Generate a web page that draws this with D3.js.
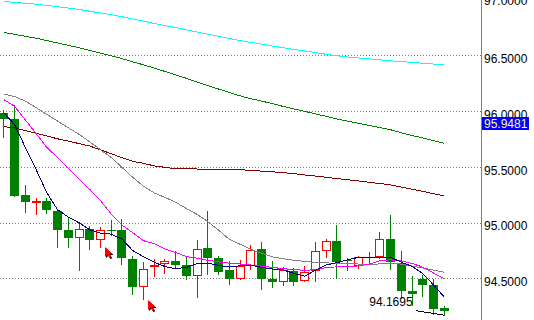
<html>
<head>
    <meta charset="utf-8">
    <title>Chart</title>
    <script src="https://d3js.org/d3.v7.min.js" charset="utf-8"></script>
    <style>
        body { margin: 0; background: #fff; }
        svg text { font-family: "Liberation Sans", Arial, sans-serif; font-size: 12px; }
    </style>
</head>
<body>
    <div id="chart"></div>
    <script>
        // bar data, oldest first
        const opens  = [95.981,95.929,95.243,95.175,95.189,95.106,94.935,94.857,94.942,94.843,94.935,94.935,94.672,94.419,94.597,94.630,94.657,94.621,94.525,94.774,94.684,94.576,94.495,94.606,94.765,94.495,94.466,94.567,94.477,94.561,94.749,94.830,94.663,94.612,94.687,94.687,94.854,94.636,94.388,94.491,94.442,94.237];
        const highs  = [96.013,96.057,95.339,95.220,95.220,95.108,95.049,94.995,94.965,94.956,95.025,95.031,94.696,94.642,94.672,94.672,94.741,94.702,94.846,95.106,94.696,94.657,94.666,94.798,94.828,94.657,94.600,94.591,94.612,94.828,94.852,94.980,94.681,94.702,94.732,94.917,95.070,94.741,94.522,94.527,94.493,94.253];
        const lows   = [95.766,95.238,95.091,95.076,95.085,94.785,94.785,94.576,94.765,94.785,94.884,94.627,94.356,94.313,94.522,94.552,94.600,94.495,94.328,94.543,94.538,94.453,94.493,94.585,94.406,94.426,94.444,94.444,94.473,94.477,94.690,94.507,94.576,94.591,94.627,94.685,94.583,94.325,94.262,94.337,94.180,94.1695];
        const closes = [95.929,95.240,95.180,95.193,95.109,94.935,94.857,94.942,94.839,94.929,94.926,94.678,94.419,94.585,94.618,94.657,94.621,94.525,94.762,94.684,94.558,94.495,94.606,94.756,94.495,94.471,94.576,94.471,94.558,94.744,94.830,94.642,94.654,94.687,94.678,94.852,94.642,94.383,94.358,94.437,94.226,94.204];

        // moving averages
        const maCyan = [96.982,96.974,96.966,96.958,96.947,96.935,96.923,96.911,96.895,96.879,96.864,96.846,96.825,96.806,96.785,96.766,96.748,96.728,96.708,96.689,96.670,96.651,96.632,96.615,96.600,96.583,96.567,96.552,96.539,96.524,96.509,96.495,96.485,96.476,96.468,96.459,96.450,96.443,96.436,96.429,96.421,96.413];
        const maGreen = [96.704,96.688,96.670,96.653,96.632,96.610,96.589,96.568,96.544,96.520,96.496,96.470,96.441,96.414,96.385,96.355,96.325,96.293,96.260,96.227,96.197,96.166,96.136,96.110,96.089,96.066,96.041,96.019,95.997,95.975,95.952,95.928,95.909,95.890,95.871,95.852,95.832,95.805,95.780,95.759,95.734,95.711];
        const maMaroon = [95.860,95.848,95.825,95.801,95.776,95.751,95.730,95.708,95.686,95.652,95.617,95.581,95.549,95.531,95.508,95.495,95.483,95.482,95.480,95.478,95.478,95.476,95.474,95.467,95.461,95.455,95.448,95.438,95.427,95.417,95.406,95.394,95.384,95.373,95.361,95.350,95.338,95.318,95.298,95.279,95.259,95.238];
        const maGray = [96.153,96.130,96.089,96.031,95.970,95.910,95.850,95.792,95.723,95.653,95.583,95.495,95.405,95.326,95.265,95.225,95.182,95.125,95.073,95.007,94.931,94.849,94.805,94.759,94.724,94.692,94.676,94.662,94.651,94.643,94.638,94.635,94.634,94.628,94.623,94.629,94.636,94.627,94.610,94.592,94.573,94.554];
        const maMagenta = [96.102,96.043,95.921,95.799,95.674,95.583,95.485,95.390,95.297,95.197,95.076,94.977,94.909,94.837,94.810,94.762,94.731,94.695,94.680,94.661,94.648,94.636,94.628,94.619,94.609,94.598,94.586,94.579,94.571,94.578,94.595,94.603,94.606,94.611,94.627,94.657,94.666,94.655,94.633,94.600,94.547,94.495];
        const maNavy = [95.983,95.880,95.674,95.477,95.268,95.115,95.050,94.998,94.935,94.905,94.896,94.851,94.749,94.693,94.644,94.605,94.586,94.598,94.632,94.637,94.615,94.601,94.612,94.618,94.598,94.583,94.575,94.544,94.520,94.571,94.619,94.640,94.665,94.688,94.690,94.690,94.688,94.644,94.607,94.543,94.440,94.331];

        const priceTicks = [97.0, 96.5, 96.0, 95.5, 95.0, 94.5];
        const currentPrice = 95.9481;
        const lowPrice = 94.1695;
        const lowLine = [[38.35, 94.21], [41, 94.1695]];
        const arrows = [[9.42, 94.785], [13.45, 94.307]];

        let width = 534,
            height = 320,
            axisX = 481;

        const x = d3.scaleLinear().domain([0, 41]).range([3.8, 444.3]);
        const y = d3.scaleLinear().domain([97, 94.5]).range([-0.5, 278.3]);

        const svg = d3.select("#chart").append("svg")
            .attr("width", width)
            .attr("height", height)
            .style("display", "block");

        // dotted grid
        svg.selectAll(".grid")
            .data(priceTicks.slice(1))
            .enter()
            .append("line")
            .attr("x1", 0)
            .attr("x2", axisX)
            .attr("y1", d => Math.round(y(d)) + 0.5)
            .attr("y2", d => Math.round(y(d)) + 0.5)
            .attr("stroke", "#808080")
            .attr("stroke-dasharray", "1,2")
            .attr("shape-rendering", "crispEdges");

        const bars = opens.map((o, i) => ({
            i: i, o: o, h: highs[i], l: lows[i], c: closes[i], up: closes[i] >= o
        }));

        const g = svg.selectAll(".bar")
            .data(bars)
            .enter()
            .append("g")
            .attr("shape-rendering", "crispEdges");

        g.each(function (d) {
            let el = d3.select(this),
                cx = Math.floor(x(d.i)),
                top = Math.round(y(Math.max(d.o, d.c))),
                bot = Math.round(y(Math.min(d.o, d.c))),
                col = d.up ? "#ff0000" : "#008000";
            if (bot - top < 1) bot = top + 1;
            el.append("line")
                .attr("x1", cx + 0.5).attr("x2", cx + 0.5)
                .attr("y1", Math.round(y(d.h))).attr("y2", Math.round(y(d.l)) + 1)
                .attr("stroke", col);
            if (d.up) {
                el.append("rect")
                    .attr("x", cx - 3.5).attr("y", top + 0.5)
                    .attr("width", 8).attr("height", Math.max(bot - top - 1, 1))
                    .attr("fill", "#fff").attr("stroke", col);
            } else {
                el.append("rect")
                    .attr("x", cx - 4).attr("y", top)
                    .attr("width", 9).attr("height", bot - top)
                    .attr("fill", col);
            }
        });

        // moving averages
        const line = d3.line().x((d, i) => x(i)).y(d => y(d));
        [[maCyan, "#00ffff"], [maGreen, "#008000"], [maMaroon, "#800000"],
         [maGray, "#808080"], [maMagenta, "#ff00ff"], [maNavy, "#000080"]].forEach(m => {
            svg.append("path")
                .attr("d", line(m[0]))
                .attr("fill", "none")
                .attr("stroke", m[1])
                .attr("stroke-width", 1)
                .attr("shape-rendering", "crispEdges");
        });

        // lowest low marker
        svg.append("line")
            .attr("x1", x(lowLine[0][0])).attr("y1", y(lowLine[0][1]))
            .attr("x2", x(lowLine[1][0])).attr("y2", y(lowLine[1][1]))
            .attr("stroke", "#000")
            .attr("shape-rendering", "crispEdges");
        svg.append("text")
            .attr("x", x(38.05))
            .attr("y", y(lowPrice) - 9.5)
            .attr("text-anchor", "end")
            .attr("fill", "#000")
            .text(lowPrice.toFixed(4));

        // signal arrows
        const arrowPath = "M0,0 L0,10 L2.5,7.8 L4.5,11 L6.2,10.2 L4.4,7 L7.5,7 Z";
        arrows.forEach(a => {
            let ag = svg.append("g")
                .attr("transform", `translate(${Math.round(x(a[0]))},${Math.round(y(a[1]))})`);
            ag.append("path").attr("d", arrowPath).attr("transform", "translate(1,1)").attr("fill", "#000");
            ag.append("path").attr("d", arrowPath).attr("fill", "#ff0000");
        });

        // price axis
        const axis = d3.axisRight(y)
            .tickValues(priceTicks)
            .tickSize(0)
            .tickPadding(3)
            .tickFormat(d3.format(".4f"));
        const ax = svg.append("g")
            .attr("transform", `translate(${axisX},0)`)
            .call(axis);
        ax.select(".domain").remove();
        ax.selectAll("text")
            .attr("dy", d => d === 97 ? "0.45em" : "0.62em")
            .attr("fill", "#000")
            .style("font-family", '"Liberation Sans", Arial, sans-serif')
            .style("font-size", "12px");
        svg.append("line")
            .attr("x1", axisX + 0.5).attr("x2", axisX + 0.5)
            .attr("y1", 0).attr("y2", height)
            .attr("stroke", "#808080")
            .attr("shape-rendering", "crispEdges");

        // current price box
        let py = Math.round(y(currentPrice));
        svg.append("rect")
            .attr("x", axisX + 1).attr("y", py)
            .attr("width", 47).attr("height", 13)
            .attr("fill", "#0000ff");
        svg.append("text")
            .attr("x", axisX + 3).attr("y", py + 10.5)
            .attr("fill", "#ffff80")
            .text(currentPrice.toFixed(4));
    </script>
</body>
</html>
